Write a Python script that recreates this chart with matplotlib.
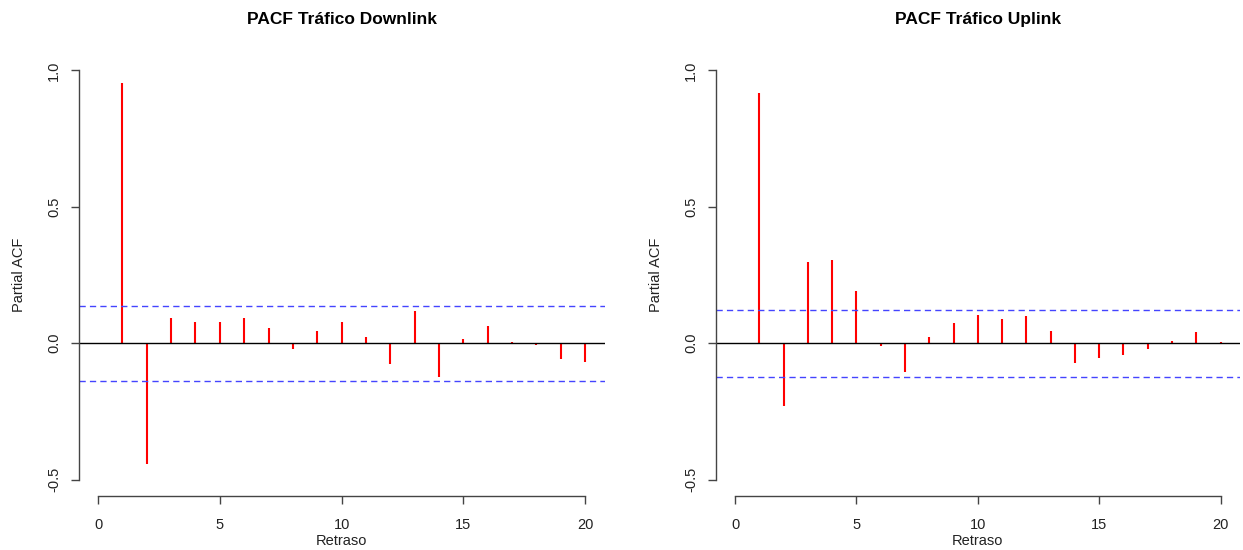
import numpy as np
import matplotlib.pyplot as plt

plt.rcParams['font.family'] = ['Liberation Sans', 'DejaVu Sans']

lags = np.arange(1, 21)

# PACF del trafico downlink y uplink (retrasos 1..20)
pacf_down = [0.952, -0.444, 0.093, 0.076, 0.079, 0.093, 0.055, -0.023, 0.044, 0.079,
             0.022, -0.075, 0.117, -0.123, 0.015, 0.062, 0.004, -0.005, -0.057, -0.068]
pacf_up = [0.918, -0.231, 0.298, 0.306, 0.193, -0.012, -0.104, 0.022, 0.073, 0.104,
           0.088, 0.100, 0.043, -0.073, -0.053, -0.045, -0.022, 0.009, 0.040, 0.005]

# limites de confianza al 95%
ci_down = 0.137
ci_up = 0.123

titles = ["PACF Tráfico Downlink", "PACF Tráfico Uplink"]
series = [pacf_down, pacf_up]
limits = [ci_down, ci_up]

fig = plt.figure(figsize=(12.43, 5.5), dpi=100)
positions = [[0.0632, 0.0982, 0.4232, 0.8036],
             [0.5757, 0.0982, 0.4219, 0.8036]]

for pos, title, vals, ci in zip(positions, titles, series, limits):
    ax = fig.add_axes(pos)
    ax.vlines(lags, 0, vals, colors='#ff0000', linewidth=1.5)
    ax.axhline(0, color='black', linewidth=1.0)
    for c in (ci, -ci):
        ax.axhline(c, color='#4444ff', linewidth=1.0, linestyle=(0, (4.5, 3)))

    ax.set_xlim(-0.8, 20.8)
    ax.set_ylim(-0.56, 1.06)
    ax.set_xticks([0, 5, 10, 15, 20])
    ax.set_yticks([-0.5, 0.0, 0.5, 1.0])
    ax.set_yticklabels(["-0.5", "0.0", "0.5", "1.0"], rotation=90, va='center')

    for s in ('top', 'right'):
        ax.spines[s].set_visible(False)
    ax.spines['left'].set_bounds(-0.5, 1.0)
    ax.spines['bottom'].set_bounds(0, 20)
    for s in ('left', 'bottom'):
        ax.spines[s].set_color('#444444')
        ax.spines[s].set_linewidth(1.0)
    ax.tick_params(axis='both', direction='out', length=6, width=1.0,
                   color='#444444', labelsize=10.5, labelcolor='#222222')
    ax.tick_params(axis='x', pad=10)
    ax.tick_params(axis='y', pad=6.5)

    ax.set_title(title, fontsize=12.5, fontweight='bold', pad=21.5)
    ax.set_xlabel("Retraso", fontsize=10.5, labelpad=1, color='#222222')
    ax.set_ylabel("Partial ACF", fontsize=10.5, labelpad=15, color='#222222')

fig.savefig("out.png", dpi=100)
